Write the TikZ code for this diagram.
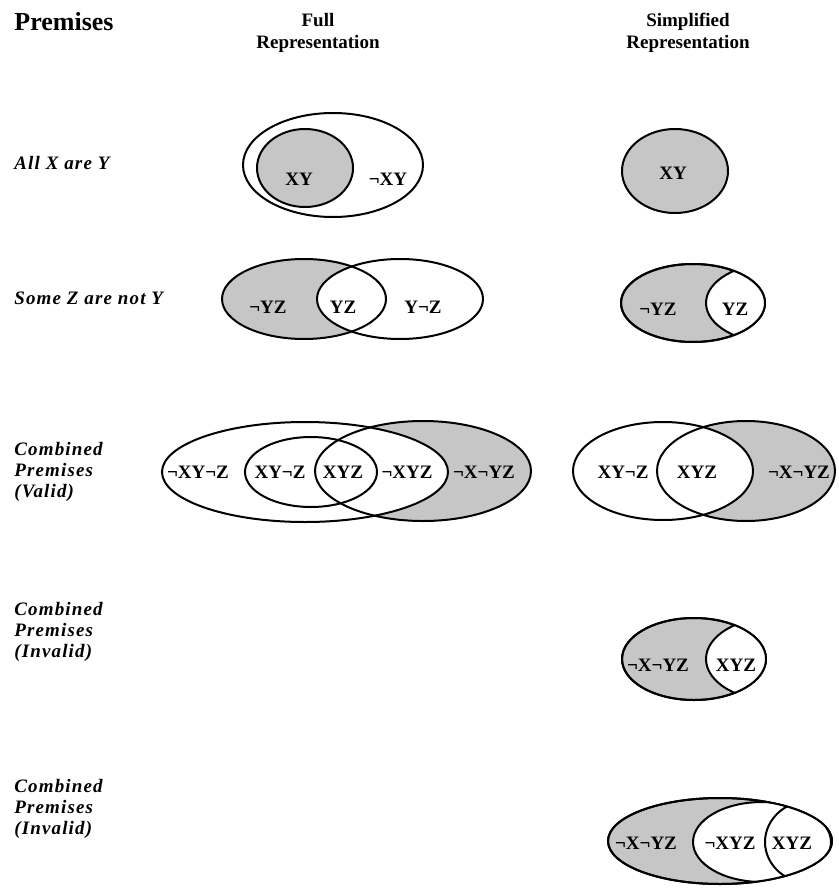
\documentclass[tikz,border=0pt]{standalone}
\usepackage{fontspec}
\setmainfont{Liberation Serif}
\definecolor{vgray}{RGB}{198,198,198}

\tikzset{
  venn/.style={line width=1pt},
  shaded/.style={fill=vgray},
  region/.style={font=\fontsize{9.5}{11}\selectfont\bfseries, inner sep=0pt},
  premise/.style={font=\fontsize{9.5}{10.3}\selectfont\bfseries\itshape\addfontfeature{LetterSpace=6}, align=left, anchor=west, inner sep=0pt},
  colhead/.style={font=\fontsize{9.5}{11}\selectfont\bfseries, align=center, inner sep=0pt}
}

\begin{document}
\begin{tikzpicture}[x=0.5pt, y=-0.5pt]
  \useasboundingbox (0,0) rectangle (839,888);

  % column headings
  \node[font=\fontsize{13}{15}\selectfont\bfseries, anchor=west, inner sep=0pt] (hprem) at (14,22) {Premises};
  \node[colhead] (hfull) at (318,33) {Full\\Representation};
  \node[colhead] (hsimp) at (688,33) {Simplified\\Representation};

  % row labels
  \node[premise] (p1) at (14,163) {All X are Y};
  \node[premise] (p2) at (14,298) {Some Z are not Y};
  \node[premise] (p3) at (14,472) {Combined\\Premises\\(Valid)};
  \node[premise] (p4) at (14,632) {Combined\\Premises\\(Invalid)};
  \node[premise] (p5) at (14,809) {Combined\\Premises\\(Invalid)};

  % row 1
  \draw[venn] (333,165) ellipse [x radius=90, y radius=52];
  \draw[venn, shaded] (305,168) ellipse [x radius=48, y radius=39];
  \node[region] (f1xy) at (299,179) {XY};
  \node[region] (f1nxy) at (388,179) {¬XY};

  \draw[venn, shaded] (675,171) ellipse [x radius=53, y radius=42];
  \node[region] (s1xy) at (673,173) {XY};

  % row 2
  \fill[shaded] (304,299) ellipse [x radius=82, y radius=40];
  \fill[white] (400,299) ellipse [x radius=83, y radius=40];
  \draw[venn] (304,299) ellipse [x radius=82, y radius=40];
  \draw[venn] (400,299) ellipse [x radius=83, y radius=40];
  \node[region] (f2nyz) at (268,307) {¬YZ};
  \node[region] (f2yz) at (343,307) {YZ};
  \node[region] (f2ynz) at (423,307) {Y¬Z};

  \draw[venn, shaded] (693,303) ellipse [x radius=72, y radius=39];
  \begin{scope}
    \clip (693,303) ellipse [x radius=72, y radius=39];
    \draw[venn, fill=white] (775,303) ellipse [x radius=69, y radius=40];
  \end{scope}
  \draw[venn] (693,303) ellipse [x radius=72, y radius=39];
  \node[region] (s2nyz) at (658,309) {¬YZ};
  \node[region] (s2yz) at (735,309) {YZ};

  % row 3
  \fill[shaded] (423,471) ellipse [x radius=108, y radius=50];
  \fill[white] (305,472) ellipse [x radius=143, y radius=50];
  \draw[venn] (305,472) ellipse [x radius=143, y radius=50];
  \draw[venn] (423,471) ellipse [x radius=108, y radius=50];
  \draw[venn] (311,472) ellipse [x radius=66, y radius=35];
  \node[region] (f3a) at (198,472) {¬XY¬Z};
  \node[region] (f3b) at (280,472) {XY¬Z};
  \node[region] (f3c) at (343,472) {XYZ};
  \node[region] (f3d) at (407,472) {¬XYZ};
  \node[region] (f3e) at (484,472) {¬X¬YZ};

  \fill[shaded] (746,471) ellipse [x radius=89, y radius=50];
  \fill[white] (663,471) ellipse [x radius=90, y radius=49];
  \draw[venn] (663,471) ellipse [x radius=90, y radius=49];
  \draw[venn] (746,471) ellipse [x radius=89, y radius=50];
  \node[region] (s3a) at (623,472) {XY¬Z};
  \node[region] (s3b) at (697,472) {XYZ};
  \node[region] (s3c) at (799,472) {¬X¬YZ};

  % row 4
  \draw[venn, shaded] (694,659) ellipse [x radius=72, y radius=41];
  \begin{scope}
    \clip (694,659) ellipse [x radius=72, y radius=41];
    \draw[venn, fill=white] (776,659) ellipse [x radius=70, y radius=42];
  \end{scope}
  \draw[venn] (694,659) ellipse [x radius=72, y radius=41];
  \node[region] (s4a) at (658,665) {¬X¬YZ};
  \node[region] (s4b) at (736,665) {XYZ};

  % row 5
  \draw[venn, shaded] (720,841) ellipse [x radius=112, y radius=43];
  \begin{scope}
    \clip (720,841) ellipse [x radius=112, y radius=43];
    \draw[venn, fill=white] (762,842) ellipse [x radius=69, y radius=40];
    \clip (762,842) ellipse [x radius=69, y radius=40];
    \draw[venn] (812,842) ellipse [x radius=47, y radius=42];
  \end{scope}
  \draw[venn] (720,841) ellipse [x radius=112, y radius=43];
  \node[region] (s5a) at (646,843) {¬X¬YZ};
  \node[region] (s5b) at (730,843) {¬XYZ};
  \node[region] (s5c) at (792,843) {XYZ};
\end{tikzpicture}
\end{document}
